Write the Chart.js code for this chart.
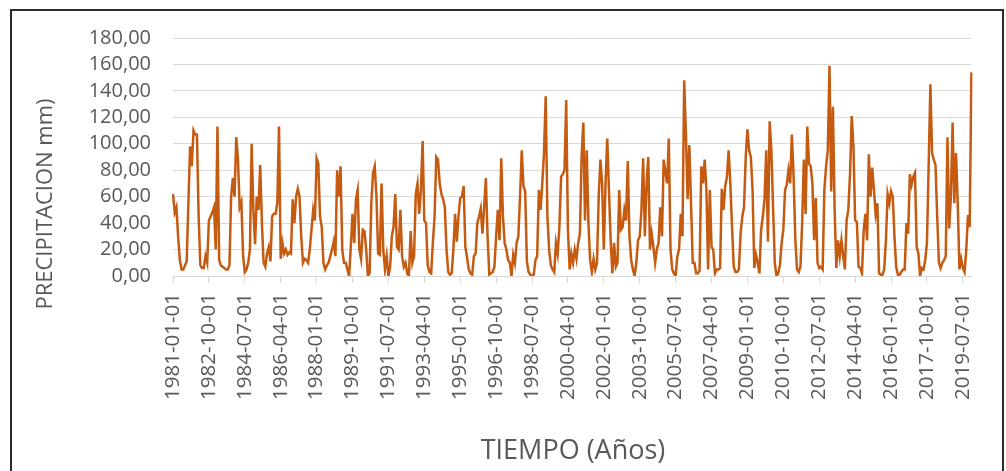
<!DOCTYPE html>
<html>
<head>
<meta charset="utf-8">
<style>
  html, body { margin: 0; padding: 0; background: #fff; }
  #wrap { position: relative; width: 1006px; height: 471px; overflow: hidden; }
  #frame { position: absolute; left: 10px; top: 9px; width: 994px; height: 480px; border: 2px solid #2b2b2b; box-sizing: border-box; }
  #precipChart { position: absolute; left: 0; top: 0; }
</style>
</head>
<body>
<div id="wrap">
  <div id="frame"></div>
  <canvas id="precipChart" width="1006" height="471"></canvas>
</div>

<script src="https://cdn.jsdelivr.net/npm/chart.js"></script>
<script>
// monthly precipitation (mm), 1981-01 .. 2019-12, one row per year
const precipitacion = [
  62, 48, 52, 30, 12, 5, 5, 8, 11, 55, 98, 83,        // 1981
  110, 107, 107, 45, 8, 6, 6, 15, 10, 42, 45, 48,     // 1982
  52, 20, 113, 12, 8, 7, 6, 5, 5, 8, 60, 74,          // 1983
  60, 105, 88, 52, 56, 15, 3, 5, 10, 20, 100, 50,     // 1984
  24, 60, 50, 84, 40, 10, 7, 17, 22, 11, 45, 47,      // 1985
  47, 55, 113, 13, 25, 17, 20, 16, 18, 17, 58, 40,    // 1986
  60, 66, 60, 30, 10, 13, 12, 10, 20, 35, 50, 42,     // 1987
  89, 85, 45, 37, 10, 5, 8, 10, 15, 20, 26, 15,       // 1988
  80, 60, 83, 20, 10, 10, 5, 0, 22, 47, 25, 58,       // 1989
  65, 20, 13, 35, 34, 20, 0, 2, 55, 78, 83, 60,       // 1990
  17, 16, 70, 20, 5, 15, 0, 7, 30, 37, 62, 22,        // 1991
  20, 50, 15, 7, 10, 2, 0, 34, 10, 15, 62, 70,        // 1992
  47, 65, 102, 42, 40, 8, 3, 2, 25, 45, 90, 88,       // 1993
  70, 62, 58, 52, 20, 3, 1, 2, 20, 47, 26, 45,        // 1994
  59, 60, 68, 22, 14, 5, 2, 1, 15, 17, 40, 45,        // 1995
  51, 32, 52, 74, 30, 1, 2, 3, 7, 30, 50, 27,         // 1996
  89, 45, 25, 20, 12, 10, 0, 16, 10, 25, 30, 60,      // 1997
  95, 68, 64, 11, 3, 1, 0, 1, 12, 15, 65, 50,         // 1998
  70, 93, 136, 45, 20, 8, 5, 3, 25, 17, 37, 75,       // 1999
  77, 80, 133, 35, 5, 17, 10, 20, 13, 25, 32, 90,     // 2000
  116, 42, 95, 40, 12, 3, 13, 5, 10, 60, 88, 70,      // 2001
  20, 70, 104, 65, 27, 2, 25, 7, 10, 65, 35, 37,      // 2002
  50, 42, 87, 30, 12, 5, 0, 10, 27, 30, 50, 89,       // 2003
  30, 70, 90, 20, 32, 22, 10, 20, 25, 52, 30, 88,     // 2004
  79, 70, 104, 20, 5, 2, 0, 15, 20, 47, 30, 148,      // 2005
  108, 58, 99, 55, 10, 10, 2, 2, 4, 83, 70, 88,       // 2006
  65, 5, 65, 22, 20, 2, 5, 5, 6, 66, 50, 68,          // 2007
  75, 95, 70, 37, 7, 3, 3, 5, 32, 45, 52, 90,         // 2008
  111, 95, 90, 65, 6, 16, 10, 2, 35, 45, 58, 95,      // 2009
  26, 117, 95, 52, 10, 0, 2, 8, 25, 35, 65, 69,       // 2010
  80, 70, 107, 75, 28, 5, 3, 7, 40, 88, 47, 113,      // 2011
  85, 83, 70, 27, 59, 10, 6, 7, 5, 65, 83, 95,        // 2012
  159, 64, 128, 50, 6, 27, 15, 27, 15, 5, 42, 50,     // 2013
  77, 121, 98, 42, 41, 7, 6, 2, 35, 47, 27, 92,       // 2014
  60, 82, 65, 47, 55, 2, 1, 1, 5, 27, 62, 55,         // 2015
  64, 60, 30, 7, 1, 1, 3, 5, 5, 40, 32, 77,           // 2016
  69, 75, 78, 22, 17, 0, 6, 5, 12, 25, 83, 145,       // 2017
  93, 88, 84, 45, 10, 6, 10, 12, 15, 105, 36, 60,     // 2018
  116, 55, 93, 55, 5, 13, 6, 3, 20, 46, 37, 154       // 2019
];

const firstYear = 1981;
const lastYear = 2019;
const labelEvery = 21;   // excel shows every 21st month
const yTicks = { min: 0, max: 180, step: 20 };

const meses = [];
for (let y = firstYear; y <= lastYear; y++) {
  for (let m = 1; m <= 12; m++) meses.push(y + '-' + String(m).padStart(2, '0') + '-01');
}

const textColor = '#595959';
const gridColor = '#d9d9d9';
const fontFamily = '"Open Sans", "Noto Sans", sans-serif';

// axis titles, placed like in the excel sheet
const axisTitles = {
  id: 'axisTitles',
  afterDraw(chart) {
    const c = chart.ctx;
    c.save();
    c.fillStyle = textColor;
    c.textAlign = 'center';
    c.textBaseline = 'middle';
    c.font = '27px ' + fontFamily;
    c.fillText('TIEMPO (Años)', 573, 451);
    c.font = '22px ' + fontFamily;
    c.translate(46, 204);
    c.rotate(-Math.PI / 2);
    c.fillText('PRECIPITACION mm)', 0, 0);
    c.restore();
  }
};

const ctx = document.getElementById('precipChart').getContext('2d');
new Chart(ctx, {
  type: 'line',
  data: {
    labels: meses,
    datasets: [{
      data: precipitacion,
      borderColor: '#c55a11',
      borderWidth: 2.5,
      pointRadius: 0,
      tension: 0,
      fill: false
    }]
  },
  options: {
    responsive: false,
    animation: false,
    layout: { padding: { left: 0, right: 18, top: 38, bottom: 0 } },
    plugins: { legend: { display: false }, tooltip: { enabled: false } },
    scales: {
      x: {
        grid: {
          drawOnChartArea: false,
          tickLength: 7,
          color: c => (c.index % labelEvery === 0 ? gridColor : 'rgba(0,0,0,0)')
        },
        border: { color: gridColor, width: 1 },
        ticks: {
          autoSkip: false,
          minRotation: 90,
          maxRotation: 90,
          padding: 10,
          color: textColor,
          font: { family: fontFamily, size: 20.5 },
          callback: (v, i) => (i % labelEvery === 0 ? meses[i] : '')
        },
        afterFit: s => { s.height = 471 - 276; }
      },
      y: {
        min: yTicks.min,
        max: yTicks.max,
        grid: { color: gridColor, drawTicks: false },
        border: { display: false },
        ticks: {
          stepSize: yTicks.step,
          autoSkip: false,
          padding: 22,
          color: textColor,
          font: { family: fontFamily, size: 20 },
          callback: v => v.toFixed(2).replace('.', ',')
        },
        afterFit: s => { s.width = 173; }
      }
    }
  },
  plugins: [axisTitles]
});
</script>
</body>
</html>
